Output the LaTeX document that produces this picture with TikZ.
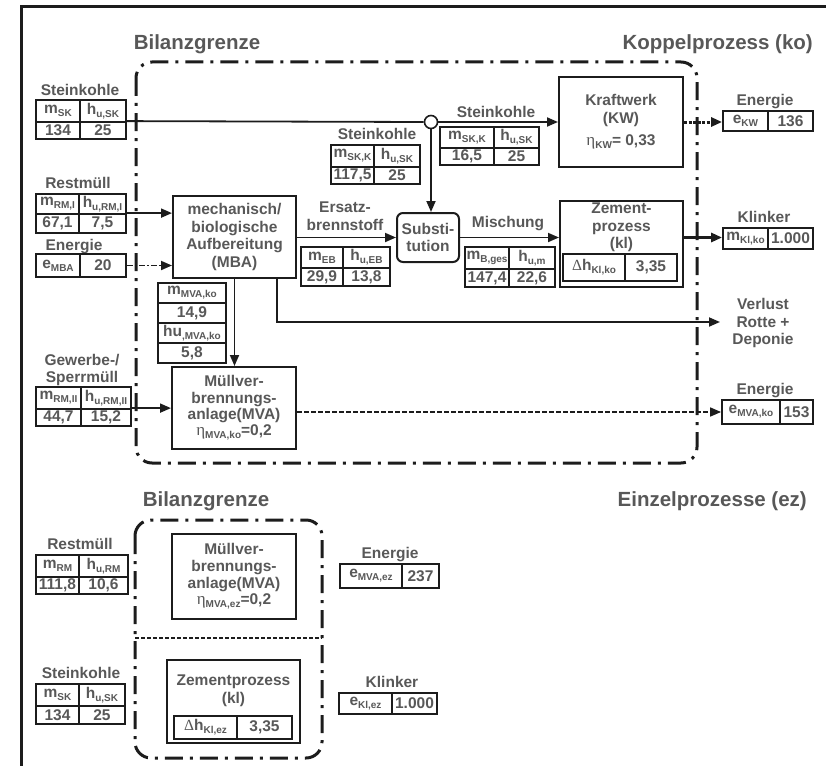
\documentclass[tikz,border=0pt]{standalone}
\usepackage{fontspec}
\setmainfont{Liberation Sans}
\newfontfamily\grk{Liberation Serif}
\usetikzlibrary{arrows.meta}
\definecolor{txt}{RGB}{88,88,88}
\definecolor{ln}{RGB}{28,28,28}
\newcommand{\sbs}[1]{\raisebox{-0.35ex}{\fontsize{10}{10}\selectfont #1}}
\newcommand{\etasym}{{\grk\mdseries\fontsize{17}{17}\selectfont η}}
\newcommand{\Dsym}{{\grk\mdseries Δ}}
\newcommand{\cellat}[6]{\node[cell, minimum width=#4, minimum height=#5] (#1) at ({#2+(#4)/2},{#3+(#5)/2}) {#6};}
\tikzset{
  cell/.style={draw=ln, fill=white, line width=1.8pt, inner sep=0pt, text=txt, font=\fontsize{15.5}{16}\selectfont\bfseries},
  box/.style={draw=ln, fill=white, line width=2pt, inner sep=0pt, text=txt, align=center, font=\fontsize{15.5}{17.5}\selectfont\bfseries},
  lab/.style={text=txt, align=center, inner sep=0pt, font=\fontsize{15.5}{17.5}\selectfont\bfseries},
  big/.style={text=txt, inner sep=0pt, font=\fontsize{20.5}{24}\selectfont\bfseries},
  conn/.style={draw=ln, line width=1.8pt},
  arr/.style={conn, -{Triangle[length=11pt,width=9pt]}},
  arrdot/.style={arr, line width=3pt, dash pattern=on 3pt off 1.5pt},
  arrdd/.style={arr, dash pattern=on 6pt off 2pt on 2pt off 2pt},
  arrdash/.style={arr, line width=1.6pt, dash pattern=on 5pt off 2pt},
  bound/.style={draw=ln, line width=3pt, dash pattern=on 18pt off 7pt on 3pt off 7pt, rounded corners=16pt},
}
\begin{document}
\begin{tikzpicture}[x=1pt,y=-1pt]
\useasboundingbox (0,0) rectangle (826,765);
% frame
\draw[ln, line width=3pt] (21,767) -- (21,7) -- (828,7);
% boundaries
\draw[bound] (136,62) rectangle (697,463);
\draw[bound] (135,520) rectangle (322,758);
\draw[ln, line width=2pt, dash pattern=on 4pt off 2pt] (135,638) -- (322,638);

% titles
\node[big] (bg1) at (197,44) {Bilanzgrenze};
\node[big, anchor=east] (kop) at (813,44) {Koppelprozess (ko)};
\node[big] (bg2) at (206,501) {Bilanzgrenze};
\node[big, anchor=east] (ezt) at (807,501) {Einzelprozesse (ez)};

% labels
\node[lab] (l1) at (80,90) {Steinkohle};
\node[lab] (l2) at (377,134) {Steinkohle};
\node[lab] (l3) at (496,112) {Steinkohle};
\node[lab] (l4) at (765,102) {Energie};
\node[lab] (l5) at (78,183) {Restmüll};
\node[lab] (l6) at (74,247) {Energie};
\node[lab] (l7) at (345,216) {Ersatz-\\brennstoff};
\node[lab] (l8) at (508,224) {Mischung};
\node[lab] (l9) at (764,217) {Klinker};
\node[lab] (l10) at (763,323) {Verlust\\Rotte +\\Deponie};
\node[lab] (l11) at (82,370) {Gewerbe-/\\Sperrmüll};
\node[lab] (l12) at (765,391) {Energie};
\node[lab] (l13) at (80,544) {Restmüll};
\node[lab] (l14) at (390,555) {Energie};
\node[lab] (l15) at (81,673) {Steinkohle};
\node[lab] (l16) at (392,682) {Klinker};

% process boxes
\node[box, minimum width=124, minimum height=90] (kw) at (621,122) {Kraftwerk\\(KW)\\[5pt]\etasym\sbs{KW}= 0,33};
\node[box, minimum width=123, minimum height=82, font=\fontsize{15.5}{17.7}\selectfont\bfseries] (mba) at (234.5,237) {mechanisch/\\biologische\\Aufbereitung\\(MBA)};
\node[box, minimum width=62, minimum height=49, rounded corners=6pt] (subst) at (428,237.5) {Substi-\\tution};
\node[box, minimum width=123, minimum height=86] (zem) at (621.5,244) {};
\node[lab] (zemt) at (621.5,227.5) {Zement-\\prozess\\(kl)};
\node[box, minimum width=124, minimum height=82, font=\fontsize{15.5}{16.3}\selectfont\bfseries] (mva) at (234,408) {Müllver-\\brennungs-\\anlage(MVA)\\\etasym\sbs{MVA,ko}=0,2};
\node[box, minimum width=124, minimum height=85, font=\fontsize{15.5}{16.7}\selectfont\bfseries] (mvaez) at (234,576.5) {Müllver-\\brennungs-\\anlage(MVA)\\\etasym\sbs{MVA,ez}=0,2};
\node[box, minimum width=133, minimum height=83] (zemez) at (233.5,701.5) {};
\node[lab, font=\fontsize{15.5}{18}\selectfont\bfseries] (zemezt) at (233.5,691) {Zementprozess\\(kl)};

% tables
\cellat{t1a}{36}{100}{44}{22}{m\sbs{SK}}
\cellat{t1b}{80}{100}{46}{22}{h\sbs{u,SK}}
\cellat{t1c}{36}{122}{44}{17}{134}
\cellat{t1d}{80}{122}{46}{17}{25}

\cellat{t2a}{331}{145}{43}{22}{m\sbs{SK,K}}
\cellat{t2b}{374}{145}{46}{22}{h\sbs{u,SK}}
\cellat{t2c}{331}{167}{43}{17}{117,5}
\cellat{t2d}{374}{167}{46}{17}{25}

\cellat{t3a}{440}{127}{54}{21}{m\sbs{SK,K}}
\cellat{t3b}{494}{127}{45}{21}{h\sbs{u,SK}}
\cellat{t3c}{440}{148}{54}{17}{16,5}
\cellat{t3d}{494}{148}{45}{17}{25}

\cellat{t4a}{723}{111}{45}{20}{e\sbs{KW}}
\cellat{t4b}{768}{111}{45}{20}{136}

\cellat{t5a}{36}{194}{43}{20}{m\sbs{RM,I}}
\cellat{t5b}{79}{194}{47}{20}{h\sbs{u,RM,I}}
\cellat{t5c}{36}{214}{43}{19}{67,1}
\cellat{t5d}{79}{214}{47}{19}{7,5}

\cellat{t6a}{36}{254}{44}{23}{e\sbs{MBA}}
\cellat{t6b}{80}{254}{46}{23}{20}

\cellat{t7a}{301}{247}{42}{21}{m\sbs{EB}}
\cellat{t7b}{343}{247}{47}{21}{h\sbs{u,EB}}
\cellat{t7c}{301}{268}{42}{18}{29,9}
\cellat{t7d}{343}{268}{47}{18}{13,8}

\cellat{t8a}{465}{247}{44}{22}{m\sbs{B,ges}}
\cellat{t8b}{509}{247}{46}{22}{h\sbs{u,m}}
\cellat{t8c}{465}{269}{44}{18}{147,4}
\cellat{t8d}{509}{269}{46}{18}{22,6}

\cellat{t9a}{563}{254}{62}{27}{\Dsym h\sbs{Kl,ko}}
\cellat{t9b}{625}{254}{52}{27}{3,35}

\cellat{t10a}{723}{228}{45}{21}{m\sbs{Kl,ko}}
\cellat{t10b}{768}{228}{45}{21}{1.000}

\cellat{t11a}{158}{283}{68}{20}{m\sbs{MVA,ko}}
\cellat{t11b}{158}{303}{68}{20}{14,9}
\cellat{t11c}{158}{323}{68}{20}{hu\sbs{,MVA,ko}}
\cellat{t11d}{158}{343}{68}{20}{5,8}

\cellat{t12a}{36}{387}{45}{22}{m\sbs{RM,II}}
\cellat{t12b}{81}{387}{50}{22}{h\sbs{u,RM,II}}
\cellat{t12c}{36}{409}{45}{17}{44,7}
\cellat{t12d}{81}{409}{50}{17}{15,2}

\cellat{t13a}{722}{400}{58}{24}{e\sbs{MVA,ko}}
\cellat{t13b}{780}{400}{33}{24}{153}

\cellat{t14a}{36}{555}{43}{22}{m\sbs{RM}}
\cellat{t14b}{79}{555}{49}{22}{h\sbs{u,RM}}
\cellat{t14c}{36}{577}{43}{17}{111,8}
\cellat{t14d}{79}{577}{49}{17}{10,6}

\cellat{t15a}{340}{564}{62}{24}{e\sbs{MVA,ez}}
\cellat{t15b}{402}{564}{37}{24}{237}

\cellat{t16a}{36}{684}{43}{22}{m\sbs{SK}}
\cellat{t16b}{79}{684}{46}{22}{h\sbs{u,SK}}
\cellat{t16c}{36}{706}{43}{18}{134}
\cellat{t16d}{79}{706}{46}{18}{25}

\cellat{t17a}{174}{716}{63}{23}{\Dsym h\sbs{Kl,ez}}
\cellat{t17b}{237}{716}{55}{23}{3,35}

\cellat{t18a}{339}{693}{53}{21}{e\sbs{Kl,ez}}
\cellat{t18b}{392}{693}{45}{21}{1.000}

% junction
\node[circle, draw=ln, fill=white, line width=1.6pt, minimum size=13pt, inner sep=0pt] (junc) at (431,122) {};
\coordinate (vl) at (720,322);

% connectors
\draw[conn] (t1d.north east) -- (junc.west);
\draw[arr] (junc.east) -- (junc.east -| kw.west);
\draw[arr] (junc.south) -- (junc.south |- subst.north);
\draw[arrdot] (kw.east) -- (kw.east -| t4a.west);
\draw[arr] (t5d.north east) -- (t5d.north east -| mba.west);
\draw[arrdd] (t6b.east) -- (t6b.east -| mba.west);
\draw[arr] (subst.west -| mba.east) -- (subst.west);
\draw[arr] (subst.east) -- (subst.east -| zem.west);
\draw[arr, line width=3pt] (subst.east -| zem.east) -- (subst.east -| t10a.west);
\draw[arr] ([xshift=42.5pt]mba.south) |- (vl);
\draw[arr] (mba.south) -- (mba.south |- mva.north);
\draw[arr] (t12d.north east) -- (t12d.north east -| mva.west);
\draw[arrdash] (t13a.west -| mva.east) -- (t13a.west);
\end{tikzpicture}
\end{document}
